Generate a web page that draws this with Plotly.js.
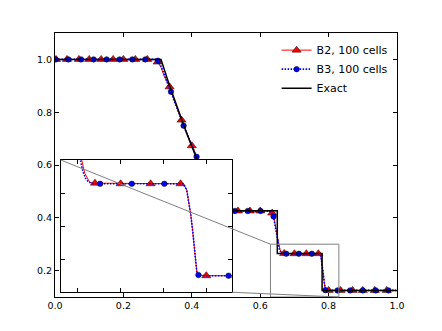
<!DOCTYPE html>
<html>
<head>
<meta charset="utf-8">
<script src="https://cdn.plot.ly/plotly-3.0.1.min.js"></script>
<style>
	html, body { margin: 0; padding: 0; background: #fff; }
	#chart { width: 442px; height: 331px; }
</style>
</head>
<body>
<div id="chart"></div>
<script>
// Sod tube density, B2 / B3 schemes on 100 cells vs exact solution

// B2 curve (red, solid)
var b2X = [0.003, 0.29, 0.30, 0.31, 0.32, 0.335, 0.37, 0.40, 0.435, 0.47, 0.49, 0.50, 0.51, 0.625, 0.635, 0.64, 0.645, 0.65,
	0.6545, 0.658, 0.664, 0.67, 0.77, 0.7741, 0.7772, 0.7802, 0.7819, 0.7842, 0.7869, 0.7889, 0.791, 0.80, 0.997];
var b2Y = [1.0, 1.0, 0.99, 0.97, 0.935, 0.896, 0.77, 0.673, 0.565, 0.475, 0.437, 0.428, 0.426, 0.426, 0.418, 0.40, 0.36, 0.32,
	0.30, 0.28, 0.266, 0.265, 0.264, 0.262, 0.2546, 0.232, 0.2169, 0.1916, 0.159, 0.1311, 0.126, 0.125, 0.125];
// B2 marker points
var b2MarkX = [0.003, 0.035, 0.07, 0.10, 0.135, 0.17, 0.20, 0.235, 0.27, 0.30, 0.335, 0.37, 0.40, 0.435, 0.47,
	0.50, 0.535, 0.57, 0.60, 0.635, 0.67, 0.70, 0.735, 0.77, 0.80, 0.835, 0.87, 0.90, 0.935, 0.97];
var b2MarkY = [1.0, 1.0, 1.0, 1.0, 1.0, 1.0, 1.0, 1.0, 1.0, 0.99, 0.896, 0.77, 0.673, 0.565, 0.475,
	0.428, 0.426, 0.426, 0.426, 0.418, 0.265, 0.264, 0.264, 0.264, 0.125, 0.125, 0.125, 0.125, 0.125, 0.125];

// B3 curve (blue, dotted)
var b3X = [0.002, 0.295, 0.301, 0.31, 0.32, 0.339, 0.376, 0.414, 0.451, 0.489, 0.50, 0.51, 0.625, 0.634, 0.639, 0.645, 0.65,
	0.6537, 0.6561, 0.6592, 0.6622, 0.6662, 0.676, 0.773, 0.7772, 0.7802, 0.7819, 0.7842, 0.7869, 0.7889, 0.7908, 0.80, 0.997];
var b3Y = [1.0, 1.0, 0.995, 0.975, 0.94, 0.877, 0.749, 0.631, 0.52, 0.436, 0.428, 0.426, 0.426, 0.42, 0.405, 0.36, 0.32,
	0.295, 0.282, 0.272, 0.267, 0.2645, 0.264, 0.264, 0.2546, 0.232, 0.2169, 0.1916, 0.159, 0.1311, 0.126, 0.125, 0.125];
// B3 marker points
var b3MarkX = [0.002, 0.039, 0.076, 0.113, 0.151, 0.189, 0.226, 0.264, 0.301, 0.339, 0.376, 0.414, 0.451, 0.489,
	0.526, 0.564, 0.601, 0.639, 0.676, 0.713, 0.751, 0.7908, 0.826, 0.863, 0.900, 0.938, 0.975];
var b3MarkY = [1.0, 1.0, 1.0, 1.0, 1.0, 1.0, 1.0, 1.0, 0.995, 0.877, 0.749, 0.631, 0.52, 0.436,
	0.426, 0.426, 0.426, 0.405, 0.264, 0.264, 0.264, 0.126, 0.125, 0.125, 0.125, 0.125, 0.125];

// exact solution
var exactX = [0.0, 0.31, 0.335, 0.36, 0.385, 0.414, 0.45, 0.489, 0.65, 0.65, 0.781, 0.781, 1.0];
var exactY = [1.0, 1.0, 0.90, 0.81, 0.72, 0.625, 0.525, 0.4265, 0.4265, 0.265, 0.265, 0.125, 0.125];

// zoom window of the inset
var insetXRange = [0.63, 0.83];
var insetYRange = [0.1, 0.3];

var mainXRange = [0, 1];
var mainYRange = [0.1, 1.1];
var insetXDomain = [0.0167, 0.5175];
var insetYDomain = [0.018, 0.519];

var FONT = 'DejaVu Sans, sans-serif';

var b2Line = { color: '#ff0000', width: 1 };
var b3Line = { color: '#0000ff', width: 1.6, dash: '1.5px,1.5px' };
var b2Marker = { symbol: 'triangle-up', size: 8, color: '#ff0000', line: { color: '#000', width: 0.5 } };
var b3Marker = { symbol: 'circle', size: 5.5, color: '#0000ff', line: { color: '#000', width: 0.5 } };

function curveTraces(xa, ya) {
	return [
		{ x: b2X, y: b2Y, xaxis: xa, yaxis: ya, type: 'scatter', mode: 'lines', line: b2Line, showlegend: false, hoverinfo: 'skip' },
		{ x: b2MarkX, y: b2MarkY, xaxis: xa, yaxis: ya, type: 'scatter', mode: 'markers', marker: b2Marker, showlegend: false, hoverinfo: 'skip' },
		{ x: b3X, y: b3Y, xaxis: xa, yaxis: ya, type: 'scatter', mode: 'lines', line: b3Line, showlegend: false, hoverinfo: 'skip' },
		{ x: b3MarkX, y: b3MarkY, xaxis: xa, yaxis: ya, type: 'scatter', mode: 'markers', marker: b3Marker, showlegend: false, hoverinfo: 'skip' }
	];
}

// legend-only entries
var data = [
	{ x: [null], y: [null], type: 'scatter', mode: 'lines+markers', name: 'B2, 100 cells', line: b2Line, marker: b2Marker },
	{ x: [null], y: [null], type: 'scatter', mode: 'lines+markers', name: 'B3, 100 cells', line: b3Line, marker: b3Marker }
];
data = data.concat(curveTraces('x', 'y'));
data.push({
	x: exactX, y: exactY, type: 'scatter', mode: 'lines', name: 'Exact',
	line: { color: '#000', width: 1.5 }, hoverinfo: 'skip'
});
data = data.concat(curveTraces('x2', 'y2'));

// helpers: main data coords -> paper coords
function px(v) { return (v - mainXRange[0]) / (mainXRange[1] - mainXRange[0]); }
function py(v) { return (v - mainYRange[0]) / (mainYRange[1] - mainYRange[0]); }

var axisCommon = {
	showgrid: false,
	zeroline: false,
	showline: true,
	linecolor: '#000',
	linewidth: 1,
	mirror: 'ticks',
	ticks: 'inside',
	ticklen: 4,
	tickwidth: 1,
	tickcolor: '#000',
	tickfont: { family: FONT, size: 9.5, color: '#000' }
};

var layout = {
	width: 442,
	height: 331,
	margin: { l: 55, r: 45, t: 33, b: 34 },
	paper_bgcolor: '#fff',
	plot_bgcolor: '#fff',
	font: { family: FONT, color: '#000' },
	showlegend: true,
	legend: {
		x: 0.648, y: 0.99, xanchor: 'left', yanchor: 'top',
		bgcolor: 'rgba(0,0,0,0)',
		font: { family: FONT, size: 11, color: '#000' }
	},
	xaxis: Object.assign({}, axisCommon, {
		range: mainXRange, domain: [0, 1], anchor: 'y',
		tick0: 0, dtick: 0.2, tickformat: '.1f'
	}),
	yaxis: Object.assign({}, axisCommon, {
		range: mainYRange, domain: [0, 1], anchor: 'x',
		tick0: 0.2, dtick: 0.2, tickformat: '.1f'
	}),
	xaxis2: Object.assign({}, axisCommon, {
		range: insetXRange, domain: insetXDomain, anchor: 'y2',
		tick0: 0.65, dtick: 0.05, showticklabels: false
	}),
	yaxis2: Object.assign({}, axisCommon, {
		range: insetYRange, domain: insetYDomain, anchor: 'x2',
		tick0: 0.15, dtick: 0.05, showticklabels: false
	}),
	shapes: [
		// white backing for the inset so main curves do not show through
		{ type: 'rect', xref: 'x2', yref: 'y2', layer: 'below',
			x0: insetXRange[0], x1: insetXRange[1], y0: insetYRange[0], y1: insetYRange[1],
			fillcolor: '#fff', line: { width: 0 } },
		// zoom box in the main axes
		{ type: 'rect', xref: 'x', yref: 'y',
			x0: insetXRange[0], x1: insetXRange[1], y0: insetYRange[0], y1: insetYRange[1],
			line: { color: '#808080', width: 1 } },
		// connectors
		{ type: 'line', xref: 'paper', yref: 'paper',
			x0: insetXDomain[0], y0: insetYDomain[1], x1: px(insetXRange[0]), y1: py(insetYRange[1]),
			line: { color: '#808080', width: 1 } },
		{ type: 'line', xref: 'paper', yref: 'paper',
			x0: insetXDomain[1], y0: insetYDomain[0], x1: px(insetXRange[1]), y1: py(insetYRange[0]),
			line: { color: '#808080', width: 1 } }
	]
};

var config = { displayModeBar: false, staticPlot: true };
Plotly.newPlot(document.getElementById('chart'), data, layout, config);
</script>
</body>
</html>
